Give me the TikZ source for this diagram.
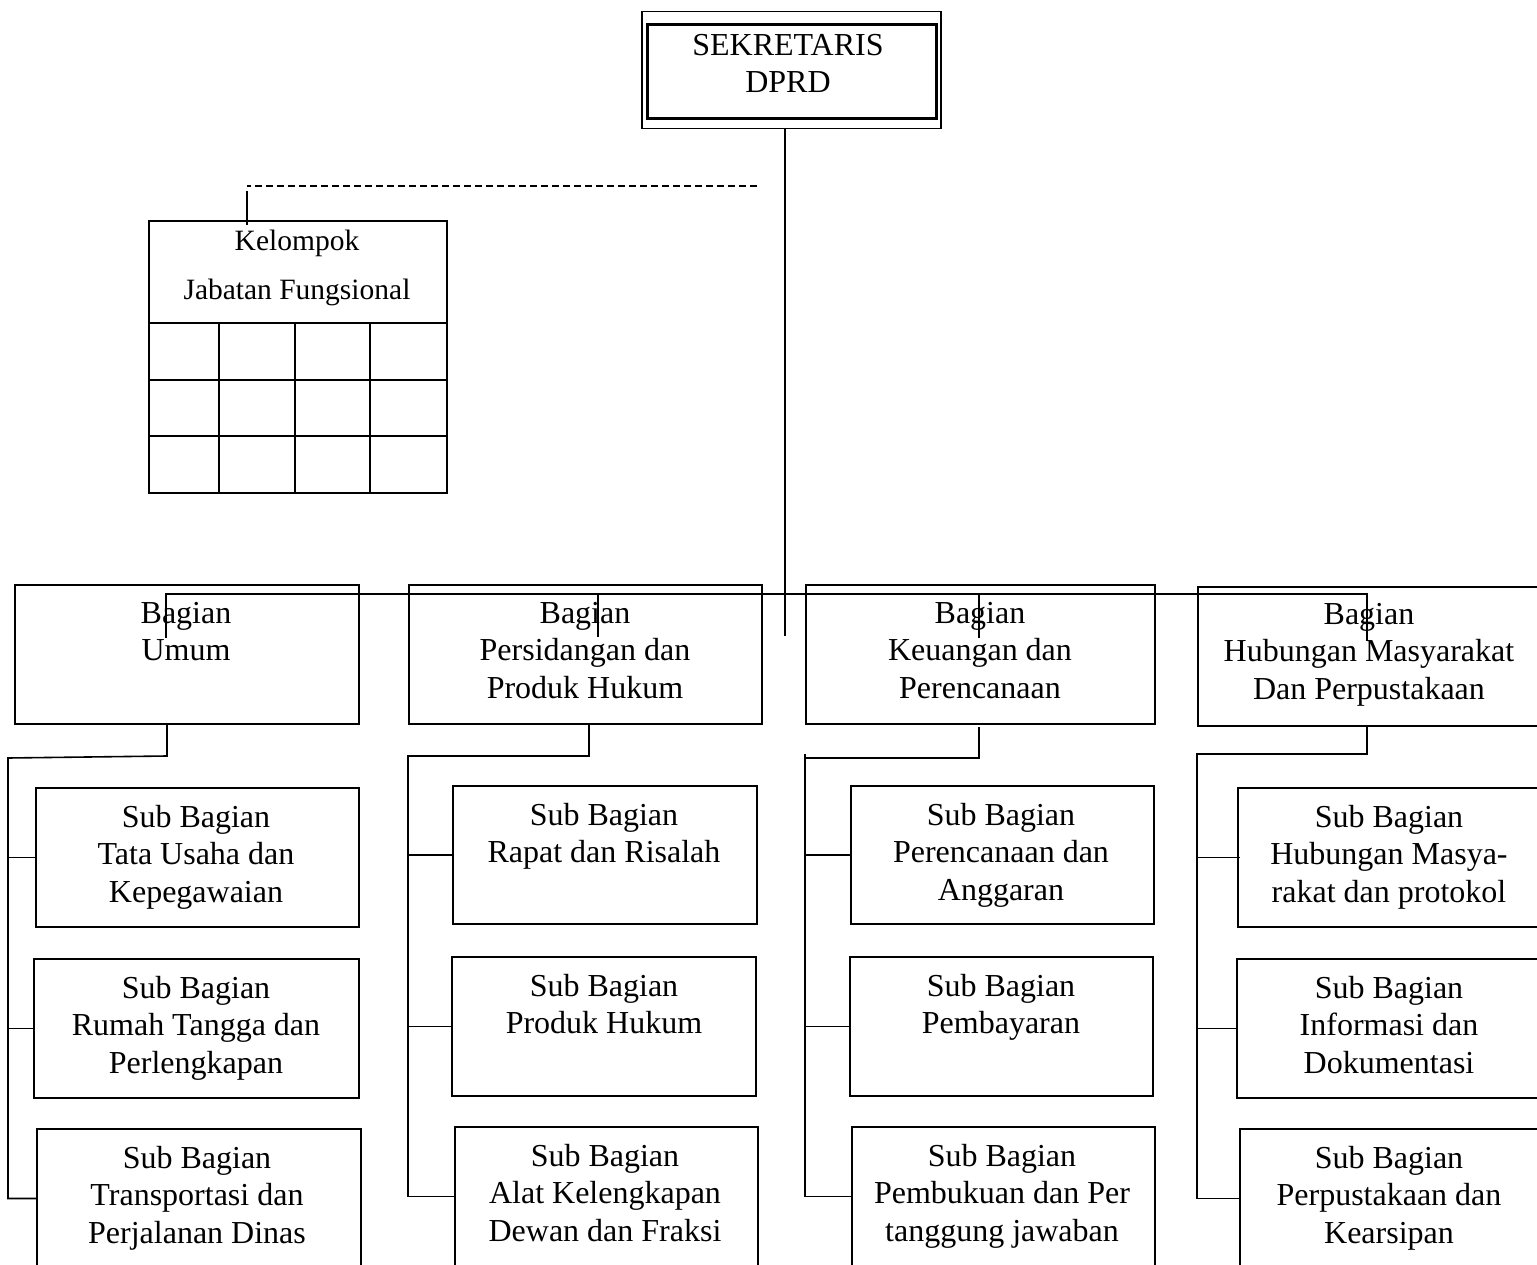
\documentclass[tikz,border=0pt]{standalone}
\usepackage{fontspec}
\setmainfont{Liberation Serif}
\begin{document}
\begin{tikzpicture}[x=1pt,y=-1pt,
  box/.style={draw, line width=1.9pt, inner sep=0pt, anchor=north west},
  conn/.style={line width=1.6pt},
  lbl/.style={align=center, anchor=north, inner sep=0pt, font=\fontsize{32}{37.5}\selectfont},
  klbl/.style={align=center, anchor=north, inner sep=0pt, font=\fontsize{29.5}{49}\selectfont},
]
\useasboundingbox (0,0) rectangle (1537,1265);
\clip (0,0) rectangle (1537,1265);

% top box
\node[box, line width=1.5pt, minimum width=299pt, minimum height=117pt] (sek) at (641,11) {};
\node[box, line width=2.6pt, minimum width=289pt, minimum height=94pt] (seki) at (646,23) {};
\node[lbl] (sekt) at (788,34) {SEKRETARIS\\DPRD};

% kelompok jabatan fungsional
\node[box, minimum width=298pt, minimum height=272pt] (kel) at (148,220) {};
\node[klbl] (kelt) at (297,230) {Kelompok\\Jabatan Fungsional};
\foreach \yy in {323,380,436} \draw[line width=1.9pt] (kel.west |- 0,\yy) -- (kel.east |- 0,\yy);
\foreach \xx in {219,295,370} \draw[line width=1.9pt] (\xx,323) -- (kel.south -| \xx,0);

% bagian boxes
\node[box, minimum width=344pt, minimum height=139pt] (umum) at (14,584) {};
\node[lbl] (umumt) at (186,602) {Bagian\\Umum};
\node[box, minimum width=353pt, minimum height=139pt] (pers) at (408,584) {};
\node[lbl] (perst) at (585,602) {Bagian\\Persidangan dan\\Produk Hukum};
\node[box, minimum width=349pt, minimum height=139pt] (keu) at (805,584) {};
\node[lbl] (keut) at (980,602) {Bagian\\Keuangan dan\\Perencanaan};
\node[box, minimum width=360pt, minimum height=139pt] (hum) at (1197,586) {};
\node[lbl] (humt) at (1369,603) {Bagian\\Hubungan Masyarakat\\Dan Perpustakaan};

% sub bagian column 1
\node[box, minimum width=323pt, minimum height=139pt] (s11) at (35,787) {};
\node[lbl] (s11t) at (196,805) {Sub Bagian\\Tata Usaha dan\\Kepegawaian};
\node[box, minimum width=325pt, minimum height=139pt] (s12) at (33,958) {};
\node[lbl] (s12t) at (196,976) {Sub Bagian\\Rumah Tangga dan\\Perlengkapan};
\node[box, minimum width=324pt, minimum height=139pt] (s13) at (36,1128) {};
\node[lbl] (s13t) at (197,1146) {Sub Bagian\\Transportasi dan\\Perjalanan Dinas};

% column 2
\node[box, minimum width=304pt, minimum height=138pt] (s21) at (452,785) {};
\node[lbl] (s21t) at (604,803) {Sub Bagian\\Rapat dan Risalah};
\node[box, minimum width=304pt, minimum height=139pt] (s22) at (451,956) {};
\node[lbl] (s22t) at (604,974) {Sub Bagian\\Produk Hukum};
\node[box, minimum width=303pt, minimum height=139pt] (s23) at (454,1126) {};
\node[lbl] (s23t) at (605,1144) {Sub Bagian\\Alat Kelengkapan\\Dewan dan Fraksi};

% column 3
\node[box, minimum width=303pt, minimum height=138pt] (s31) at (850,785) {};
\node[lbl] (s31t) at (1001,803) {Sub Bagian\\Perencanaan dan\\Anggaran};
\node[box, minimum width=303pt, minimum height=139pt] (s32) at (849,956) {};
\node[lbl] (s32t) at (1001,974) {Sub Bagian\\Pembayaran};
\node[box, minimum width=303pt, minimum height=139pt] (s33) at (851,1126) {};
\node[lbl] (s33t) at (1002,1144) {Sub Bagian\\Pembukuan dan Per\\tanggung jawaban};

% column 4
\node[box, minimum width=320pt, minimum height=139pt] (s41) at (1237,787) {};
\node[lbl] (s41t) at (1389,805) {Sub Bagian\\Hubungan Masya-\\rakat dan protokol};
\node[box, minimum width=320pt, minimum height=139pt] (s42) at (1236,958) {};
\node[lbl] (s42t) at (1389,976) {Sub Bagian\\Informasi dan\\Dokumentasi};
\node[box, minimum width=320pt, minimum height=139pt] (s43) at (1239,1128) {};
\node[lbl] (s43t) at (1389,1146) {Sub Bagian\\Perpustakaan dan\\Kearsipan};

% main trunk
\coordinate (trunk) at (785,636);
\draw[conn] (sek.south -| trunk) -- (trunk);

% dashed link to kelompok
\coordinate (dR) at (757,186);
\coordinate (dL) at (247,186);
\coordinate (kv) at (247,191);
\draw[conn, dash pattern=on 7pt off 4pt] (dR) -- (dL);
\draw[conn] (kv) -- (247,225);

% horizontal bus to bagian
\coordinate (hL) at (166,594);
\coordinate (hR) at (1367,594);
\coordinate (d1) at (166,638);
\coordinate (d2) at (598,637);
\coordinate (d3) at (979,638);
\coordinate (d4) at (1367,641);
\draw[conn] (d1) -- (hL) -- (hR) -- (d4);
\draw[conn] (d2 |- hL) -- (d2);
\draw[conn] (d3 |- hL) -- (d3);

% column 1 connectors
\coordinate (c1a) at (167,756);
\coordinate (c1b) at (8,758);
\draw[conn] (umum.south -| c1a) -- (c1a) -- (c1b) -- (c1b |- s13.west) -- (s13.west);
\draw[conn] (c1b |- s11.west) -- (s11.west);
\draw[conn] (c1b |- s12.west) -- (s12.west);

% column 2 connectors
\coordinate (c2a) at (589,756);
\coordinate (c2b) at (408,756);
\draw[conn] (pers.south -| c2a) -- (c2a) -- (c2b) -- (c2b |- s23.west) -- (s23.west);
\draw[conn] (c2b |- s21.west) -- (s21.west);
\draw[conn] (c2b |- s22.west) -- (s22.west);

% column 3 connectors
\coordinate (c3a) at (979,758);
\coordinate (c3b) at (805,758);
\coordinate (c3t) at (979,727);
\coordinate (c3u) at (805,754);
\draw[conn] (c3t) -- (c3a) -- (c3b);
\draw[conn] (c3u) -- (c3u |- s33.west) -- (s33.west);
\draw[conn] (c3u |- s31.west) -- (s31.west);
\draw[conn] (c3u |- s32.west) -- (s32.west);

% column 4 connectors
\coordinate (c4a) at (1367,754);
\coordinate (c4b) at (1197,754);
\draw[conn] (hum.south -| c4a) -- (c4a) -- (c4b) -- (c4b |- s43.west) -- (s43.west);
\draw[conn] (c4b |- s41.west) -- ([xshift=3pt]s41.west);
\draw[conn] (c4b |- s42.west) -- ([xshift=2pt]s42.west);
\end{tikzpicture}
\end{document}
